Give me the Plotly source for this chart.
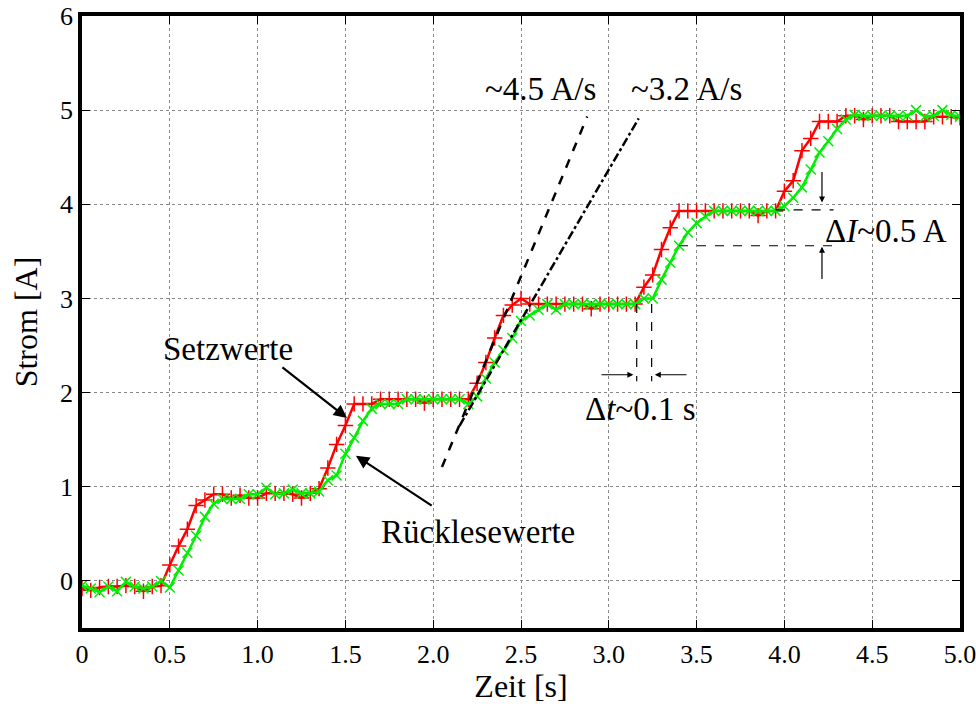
import plotly.graph_objects as go

# ---------------- data ----------------
zeit = [round(i * 0.05, 2) for i in range(101)]

setzwerte = [
    -0.08, -0.10, -0.07, -0.06, -0.06, -0.05, -0.06, -0.11, -0.06, -0.05,
    0.17, 0.37, 0.55, 0.80, 0.86, 0.92, 0.92, 0.88, 0.91, 0.88,
    0.88, 0.93, 0.93, 0.93, 0.92, 0.88, 0.93, 0.98, 1.20, 1.45,
    1.65, 1.88, 1.88, 1.88, 1.93, 1.93, 1.93, 1.93, 1.93, 1.89,
    1.93, 1.93, 1.93, 1.93, 1.93, 2.10, 2.32, 2.58, 2.82, 2.93,
    3.00, 2.94, 2.94, 2.94, 2.94, 2.94, 2.94, 2.94, 2.89, 2.94,
    2.94, 2.94, 2.94, 2.94, 3.12, 3.25, 3.52, 3.75, 3.93, 3.93,
    3.93, 3.93, 3.93, 3.93, 3.93, 3.93, 3.93, 3.88, 3.93, 3.93,
    4.14, 4.25, 4.57, 4.70, 4.88, 4.88, 4.88, 4.94, 4.94, 4.90,
    4.94, 4.94, 4.94, 4.88, 4.88, 4.88, 4.88, 4.93, 4.93, 4.93,
    4.92,
]

ruecklesewerte = [
    -0.05, -0.08, -0.12, -0.06, -0.11, -0.01, -0.06, -0.08, -0.06, 0.00,
    -0.07, 0.11, 0.30, 0.48, 0.68, 0.82, 0.87, 0.87, 0.87, 0.92,
    0.92, 0.99, 0.92, 0.93, 0.97, 0.93, 0.93, 0.95, 1.07, 1.12,
    1.35, 1.52, 1.70, 1.83, 1.88, 1.88, 1.88, 1.93, 1.93, 1.93,
    1.93, 1.93, 1.93, 1.93, 1.88, 1.96, 2.15, 2.32, 2.45, 2.58,
    2.76, 2.82, 2.88, 2.94, 2.88, 2.94, 2.94, 2.94, 2.94, 2.94,
    2.94, 2.94, 2.94, 2.94, 3.00, 3.00, 3.20, 3.38, 3.56, 3.70,
    3.80, 3.87, 3.93, 3.93, 3.93, 3.93, 3.93, 3.93, 3.93, 3.93,
    3.98, 4.07, 4.18, 4.37, 4.55, 4.67, 4.80, 4.90, 4.95, 4.94,
    4.94, 4.94, 4.94, 4.94, 4.94, 5.00, 4.93, 4.94, 5.00, 4.95,
    4.93,
]

x_tickvals = [0, 0.5, 1.0, 1.5, 2.0, 2.5, 3.0, 3.5, 4.0, 4.5, 5.0]
x_ticktext = ["0", "0.5", "1.0", "1.5", "2.0", "2.5", "3.0", "3.5", "4.0", "4.5", "5.0"]
y_tickvals = [0, 1, 2, 3, 4, 5, 6]
y_ticktext = ["0", "1", "2", "3", "4", "5", "6"]

# slope guide lines: anchor point, slope, t-range
rate_slopes = [4.5, 3.2]
rate_anchor_t = [2.19, 2.21]
rate_anchor_i = [1.84, 1.84]
rate_t_start = [2.05, 2.15]
rate_t_end = [2.877, 3.17]
rate_dash = ["dash", "dashdot"]
rate_labels = ["~4.5 A/s", "~3.2 A/s"]
rate_label_t = [2.61, 3.44]
rate_label_i = [5.23, 5.23]

# delay / difference markers
dt_t = [3.159, 3.244]
dt_i_top = 2.94
dt_i_bottom = 2.12
dI_i = [3.94, 3.56]
dI_t_start = [3.95, 3.40]
dI_t_end = 4.28

FONT = "'Liberation Serif', 'Times New Roman', Times, serif"
TXT = 33

fig = go.Figure()

fig.add_trace(go.Scatter(
    x=zeit, y=setzwerte, mode="lines+markers", name="Setzwerte",
    line=dict(color="#ff0000", width=2.5),
    marker=dict(symbol="cross-thin", size=11, color="#ff0000",
                line=dict(color="#ff0000", width=1.5)),
))
fig.add_trace(go.Scatter(
    x=zeit, y=ruecklesewerte, mode="lines+markers", name="Rücklesewerte",
    line=dict(color="#00ee00", width=2.5),
    marker=dict(symbol="x-thin", size=10, color="#00ee00",
                line=dict(color="#00ee00", width=1.5)),
))

# slope guide lines
for s, at, ai, t0, t1, d in zip(rate_slopes, rate_anchor_t, rate_anchor_i,
                                 rate_t_start, rate_t_end, rate_dash):
    fig.add_trace(go.Scatter(
        x=[t0, t1], y=[ai + s * (t0 - at), ai + s * (t1 - at)],
        mode="lines", line=dict(color="black", width=2.5, dash=d),
        hoverinfo="skip",
    ))

# delay verticals
for tv in dt_t:
    fig.add_trace(go.Scatter(
        x=[tv, tv], y=[dt_i_top, dt_i_bottom], mode="lines",
        line=dict(color="black", width=1.2, dash="dash"), hoverinfo="skip",
    ))
# delta I horizontals
for iv, ts in zip(dI_i, dI_t_start):
    fig.add_trace(go.Scatter(
        x=[ts, dI_t_end], y=[iv, iv], mode="lines",
        line=dict(color="black", width=1.2, dash="dash"), hoverinfo="skip",
    ))

annotations = []
for lab, lt, li in zip(rate_labels, rate_label_t, rate_label_i):
    annotations.append(dict(x=lt, y=li, xref="x", yref="y", text=lab,
                            showarrow=False, font=dict(family=FONT, size=TXT, color="black")))

# Setzwerte arrow
annotations.append(dict(x=1.509, y=1.73, ax=1.133, ay=2.28, xref="x", yref="y",
                        axref="x", ayref="y", text="", showarrow=True,
                        arrowhead=2, arrowsize=1.2, arrowwidth=2.2, arrowcolor="black"))
annotations.append(dict(x=0.83, y=2.46, xref="x", yref="y", text="Setzwerte",
                        showarrow=False, font=dict(family=FONT, size=TXT, color="black")))
# Rücklesewerte arrow
annotations.append(dict(x=1.56, y=1.33, ax=2.0, ay=0.79, xref="x", yref="y",
                        axref="x", ayref="y", text="", showarrow=True,
                        arrowhead=2, arrowsize=1.2, arrowwidth=2.2, arrowcolor="black"))
annotations.append(dict(x=2.255, y=0.52, xref="x", yref="y", text="Rücklesewerte",
                        showarrow=False, font=dict(family=FONT, size=TXT, color="black")))

# delta t arrows
annotations.append(dict(x=3.14, y=2.19, ax=2.95, ay=2.19, xref="x", yref="y",
                        axref="x", ayref="y", text="", showarrow=True,
                        arrowhead=2, arrowsize=1, arrowwidth=1.2, arrowcolor="black"))
annotations.append(dict(x=3.262, y=2.19, ax=3.451, ay=2.19, xref="x", yref="y",
                        axref="x", ayref="y", text="", showarrow=True,
                        arrowhead=2, arrowsize=1, arrowwidth=1.2, arrowcolor="black"))
annotations.append(dict(x=3.183, y=1.83, xref="x", yref="y",
                        text="Δ<i>t</i>~0.1 s",
                        showarrow=False, font=dict(family=FONT, size=TXT, color="black")))
# delta I arrows
annotations.append(dict(x=4.214, y=4.02, ax=4.214, ay=4.36, xref="x", yref="y",
                        axref="x", ayref="y", text="", showarrow=True,
                        arrowhead=2, arrowsize=1, arrowwidth=1.2, arrowcolor="black"))
annotations.append(dict(x=4.214, y=3.55, ax=4.214, ay=3.19, xref="x", yref="y",
                        axref="x", ayref="y", text="", showarrow=True,
                        arrowhead=2, arrowsize=1, arrowwidth=1.2, arrowcolor="black"))
annotations.append(dict(x=4.578, y=3.72, xref="x", yref="y",
                        text="Δ<i>I</i>~0.5 A",
                        showarrow=False, font=dict(family=FONT, size=TXT, color="black")))

fig.update_layout(
    width=976, height=704,
    margin=dict(l=82, r=16, t=16, b=76, autoexpand=False),
    paper_bgcolor="white", plot_bgcolor="white",
    showlegend=False,
    font=dict(family=FONT, color="black", size=26),
    annotations=annotations,
)
fig.update_xaxes(
    range=[0, 5], tickvals=x_tickvals, ticktext=x_ticktext,
    showline=True, linewidth=3.5, linecolor="black", mirror="ticks",
    ticks="inside", ticklen=8, tickwidth=1, tickcolor="black",
    showgrid=True, gridcolor="#888888", gridwidth=1, griddash="dot",
    zeroline=False, automargin=False, ticklabeloverflow="allow",
    tickfont=dict(family=FONT, size=26, color="black"),
    title=dict(text="Zeit [s]", font=dict(family=FONT, size=32, color="black"), standoff=8),
)
fig.update_yaxes(
    range=[-0.5, 6], tickvals=y_tickvals, ticktext=y_ticktext,
    showline=True, linewidth=3.5, linecolor="black", mirror="ticks",
    ticks="inside", ticklen=8, tickwidth=1, tickcolor="black",
    showgrid=True, gridcolor="#888888", gridwidth=1, griddash="dot",
    zeroline=False, automargin=False, ticklabeloverflow="allow",
    tickfont=dict(family=FONT, size=26, color="black"),
    title=dict(text="Strom [A]", font=dict(family=FONT, size=32, color="black"), standoff=14),
)

# remove the default 8px page margin so the figure fills the window exactly
fig.write_html("out.html", config={"displayModeBar": False},
               post_script="document.body.style.margin='0';document.body.style.overflow='hidden';")
